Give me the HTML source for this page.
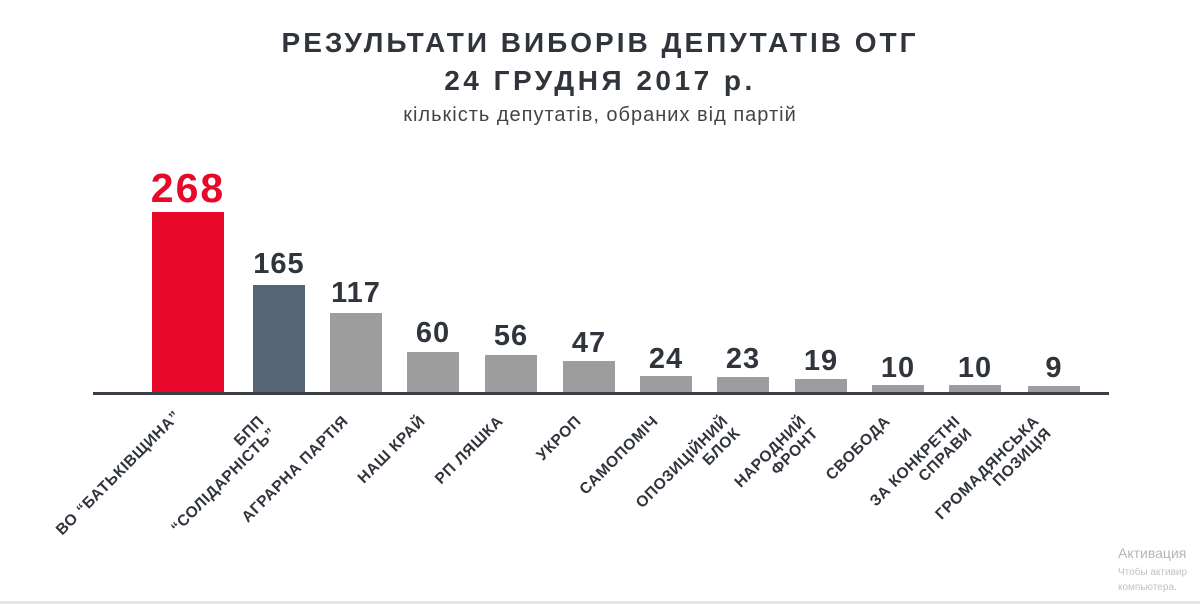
<!DOCTYPE html>
<html><head><meta charset="utf-8"><style>
html,body{margin:0;padding:0;background:#fff;}
svg{display:block;font-family:"Liberation Sans","DejaVu Sans",sans-serif;}
</style></head><body>
<svg width="1200" height="604" viewBox="0 0 1200 604" xmlns="http://www.w3.org/2000/svg">
<rect width="1200" height="604" fill="#fff"/>
<text x="600" y="52" text-anchor="middle" font-size="28" font-weight="bold" fill="#30343b" letter-spacing="3">РЕЗУЛЬТАТИ ВИБОРІВ ДЕПУТАТІВ ОТГ</text>
<text x="600" y="90" text-anchor="middle" font-size="28" font-weight="bold" fill="#30343b" letter-spacing="3.5">24 ГРУДНЯ 2017 р.</text>
<text x="600" y="121" text-anchor="middle" font-size="20" fill="#444" letter-spacing="1">кількість депутатів, обраних від партій</text>

<g>
<rect x="152" y="212" width="72" height="181" fill="#e8092a"/>
<rect x="253" y="285" width="52" height="108" fill="#566576"/>
<rect x="330" y="313" width="52" height="80" fill="#9d9d9d"/>
<rect x="407" y="352" width="52" height="41" fill="#9d9d9d"/>
<rect x="485" y="355" width="52" height="38" fill="#9d9d9d"/>
<rect x="563" y="361" width="52" height="32" fill="#9d9d9d"/>
<rect x="640" y="376" width="52" height="17" fill="#9d9d9d"/>
<rect x="717" y="377" width="52" height="16" fill="#9d9d9d"/>
<rect x="795" y="379" width="52" height="14" fill="#9d9d9d"/>
<rect x="872" y="385" width="52" height="8" fill="#9d9d9d"/>
<rect x="949" y="385" width="52" height="8" fill="#9d9d9d"/>
<rect x="1028" y="386" width="52" height="7" fill="#9d9d9d"/>
</g>
<rect x="93" y="392" width="1016" height="3" fill="#3a3f47"/>

<g font-weight="bold" text-anchor="middle" fill="#30343b" font-size="29" letter-spacing="1">
<text x="188" y="202" font-size="41" fill="#e8092a" letter-spacing="2">268</text>
<text x="279" y="273">165</text>
<text x="356" y="302">117</text>
<text x="433" y="342">60</text>
<text x="511" y="345">56</text>
<text x="589" y="352">47</text>
<text x="666" y="368">24</text>
<text x="743" y="368">23</text>
<text x="821" y="370">19</text>
<text x="898" y="377">10</text>
<text x="975" y="377">10</text>
<text x="1054" y="377">9</text>
</g>

<g font-weight="bold" text-anchor="end" fill="#30343b" font-size="15.5" letter-spacing="0.6">
<g transform="translate(181,417) rotate(-45)"><text>ВО “БАТЬКІВЩИНА”</text></g>
<g transform="translate(277,434) rotate(-45)"><text y="-17">БПП</text><text>“СОЛІДАРНІСТЬ”</text></g>
<g transform="translate(349,422) rotate(-45)"><text>АГРАРНА ПАРТІЯ</text></g>
<g transform="translate(426,422) rotate(-45)"><text>НАШ КРАЙ</text></g>
<g transform="translate(504,422) rotate(-45)"><text>РП  ЛЯШКА</text></g>
<g transform="translate(582,422) rotate(-45)"><text>УКРОП</text></g>
<g transform="translate(659,422) rotate(-45)"><text>САМОПОМІЧ</text></g>
<g transform="translate(741,434) rotate(-45)"><text y="-17">ОПОЗИЦІЙНИЙ</text><text>БЛОК</text></g>
<g transform="translate(819,434) rotate(-45)"><text y="-17">НАРОДНИЙ</text><text>ФРОНТ</text></g>
<g transform="translate(891,422) rotate(-45)"><text>СВОБОДА</text></g>
<g transform="translate(973,434) rotate(-45)"><text y="-17">ЗА КОНКРЕТНІ</text><text>СПРАВИ</text></g>
<g transform="translate(1052,434) rotate(-45)"><text y="-17">ГРОМАДЯНСЬКА</text><text>ПОЗИЦІЯ</text></g>
</g>

<text x="1118" y="558" font-size="14" fill="#b5b5b5">Активация</text>
<text x="1118" y="575" font-size="10" fill="#c2c2c2">Чтобы активир</text>
<text x="1118" y="590" font-size="10" fill="#c2c2c2">компьютера.</text>
<rect x="0" y="601" width="1200" height="3" fill="#e6e6e6"/>
</svg>
</body></html>
